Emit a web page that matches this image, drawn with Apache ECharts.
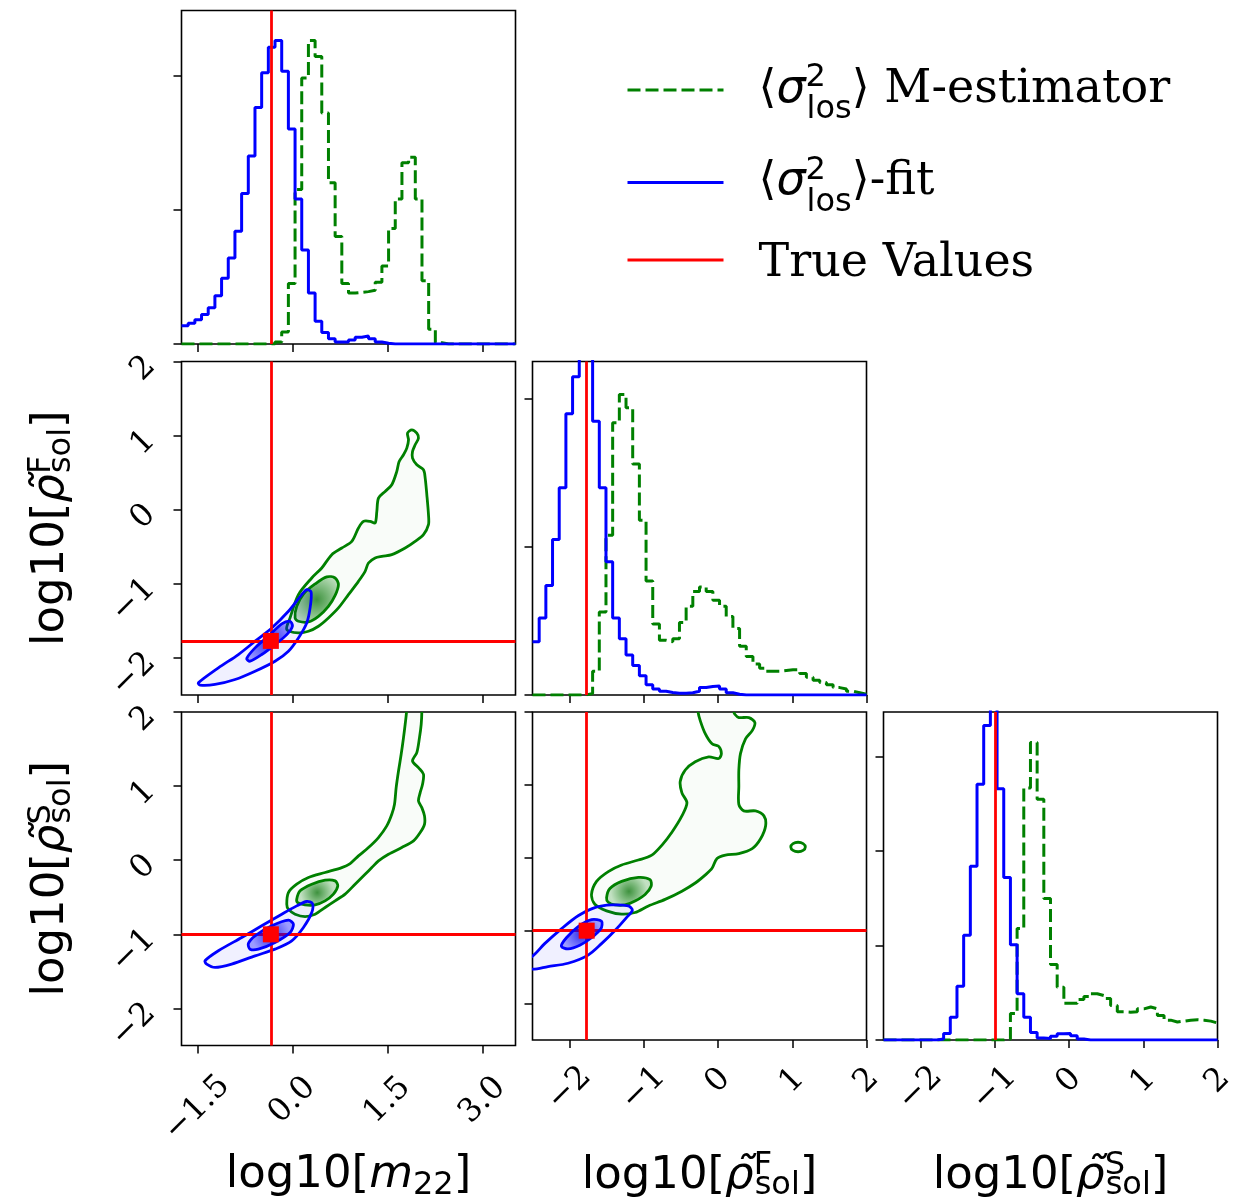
<!DOCTYPE html>
<html><head><meta charset="utf-8">
<script src="https://cdn.jsdelivr.net/npm/echarts@6/dist/echarts.min.js"></script>
<style>html,body{margin:0;padding:0;background:#fff}#c{width:1244px;height:1203px}</style>
</head><body><div id="c"></div>
<script>
// ---------- true values ----------
const trueM22 = -0.34, trueRhoF = -1.77, trueRhoS = -1.0;
// ---------- axis ranges / ticks ----------
const m22Range = [-1.75, 3.52];
const rhoRange = [-2.5, 2];
const m22Ticks = [-1.5, 0, 1.5, 3];
const rhoTicks = [-2, -1, 0, 1, 2];
const histM22Max = 2.483, histRhoFMax = 2.253, histRhoSMax = 3.474;
const histM22Ticks = [0, 1, 2], histRhoFTicks = [0, 1, 2], histRhoSTicks = [0, 1, 2, 3];
// ---------- histogram bins ----------
const m22BinStart = -1.75, m22BinWidth = 0.1054;
const rhoBinStart = -2.5, rhoBinWidth = 0.09;
const m22Blue = [0.135,0.155,0.18,0.22,0.27,0.36,0.49,0.64,0.84,1.12,1.40,1.76,2.02,2.21,2.26,2.03,1.60,1.08,0.70,0.38,0.17,0.085,0.04,0.015,0.015,0.03,0.05,0.06,0.04,0.015,0.005,0,0,0,0,0,0,0,0,0,0,0,0,0,0,0,0,0,0,0];
const m22Green = [0,0,0,0,0,0,0,0,0,0,0,0,0,0,0.015,0.09,0.45,1.15,1.98,2.26,2.14,1.72,1.20,0.80,0.45,0.38,0.385,0.39,0.40,0.46,0.58,0.86,1.08,1.35,1.39,1.08,0.47,0.11,0.01,0,0,0,0,0,0,0,0,0,0,0];
const rhoFBlue = [0.36,0.52,0.74,1.05,1.40,1.90,2.15,2.6,2.6,1.85,1.40,0.90,0.52,0.38,0.27,0.20,0.13,0.07,0.04,0.025,0.017,0.012,0.012,0.015,0.025,0.05,0.058,0.06,0.04,0.015,0.005,0,0,0,0,0,0,0,0,0,0,0,0,0,0,0,0,0,0,0];
const rhoFGreen = [0,0,0,0,0,0,0,0,0.01,0.16,0.56,1.08,1.84,2.03,1.94,1.56,1.18,0.77,0.48,0.37,0.36,0.38,0.49,0.60,0.70,0.73,0.70,0.64,0.60,0.53,0.45,0.33,0.26,0.21,0.18,0.16,0.16,0.165,0.17,0.17,0.145,0.12,0.10,0.085,0.07,0.05,0.04,0.025,0.015,0.005];
const rhoSBlue = [0,0,0,0,0,0,0,0,0.01,0.07,0.24,0.57,1.11,1.84,2.71,3.33,3.6,2.66,1.72,1.01,0.49,0.24,0.08,0.02,0.015,0.04,0.065,0.07,0.045,0.01,0,0,0,0,0,0,0,0,0,0,0,0,0,0,0,0,0,0,0,0];
const rhoSGreen = [0,0,0,0,0,0,0,0,0,0,0,0,0,0,0,0,0,0,0.01,0.28,1.18,2.67,3.15,2.55,1.50,0.80,0.56,0.39,0.39,0.43,0.46,0.49,0.47,0.44,0.365,0.30,0.295,0.30,0.33,0.35,0.33,0.26,0.21,0.19,0.20,0.21,0.215,0.21,0.20,0.18];
// ---------- contours (data space) ----------
const mfGreenOuter = [[-0.089,-1.617],[-0.037,-1.46],[0.095,-1.146],[0.305,-0.921],[0.463,-0.786],[0.621,-0.606],[0.779,-0.517],[0.937,-0.427],[1.042,-0.247],[1.121,-0.157],[1.226,-0.157],[1.305,-0.180],[1.332,-0.022],[1.358,0.157],[1.463,0.247],[1.568,0.337],[1.647,0.517],[1.684,0.651],[1.753,0.741],[1.805,0.831],[1.832,0.943],[1.816,1.033],[1.884,1.078],[1.963,1.033],[1.989,0.966],[1.937,0.876],[1.895,0.786],[1.895,0.696],[1.963,0.606],[2.068,0.539],[2.095,0.427],[2.121,0.202],[2.147,-0.067],[2.147,-0.202],[2.068,-0.337],[1.937,-0.427],[1.779,-0.517],[1.568,-0.606],[1.411,-0.629],[1.305,-0.651],[1.2,-0.719],[1.147,-0.831],[1.042,-0.966],[0.884,-1.146],[0.726,-1.325],[0.568,-1.46],[0.411,-1.572],[0.253,-1.640],[0.095,-1.662]];
const mfGreenInner = [[0.042,-1.46],[0.068,-1.303],[0.174,-1.137],[0.358,-1.002],[0.542,-0.907],[0.674,-0.921],[0.726,-1.011],[0.674,-1.155],[0.568,-1.303],[0.411,-1.438],[0.253,-1.514],[0.095,-1.505]];
const mfBlueOuter = [[-1.484,-2.336],[-1.168,-2.134],[-0.853,-1.954],[-0.589,-1.774],[-0.326,-1.595],[-0.063,-1.370],[0.147,-1.146],[0.226,-1.078],[0.295,-1.11],[0.279,-1.325],[0.226,-1.527],[0.095,-1.730],[-0.063,-1.909],[-0.274,-2.044],[-0.589,-2.179],[-0.905,-2.291],[-1.221,-2.358],[-1.458,-2.367]];
const mfBlueInner = [[-0.721,-2.008],[-0.589,-1.864],[-0.379,-1.707],[-0.168,-1.541],[-0.037,-1.505],[0,-1.572],[-0.089,-1.685],[-0.274,-1.819],[-0.484,-1.954],[-0.668,-2.044]];
const msGreenOuter = [[-0.089,-0.593],[-0.063,-0.436],[0.068,-0.324],[0.253,-0.234],[0.516,-0.166],[0.779,-0.099],[0.911,-0.045],[1.042,0.058],[1.2,0.171],[1.358,0.306],[1.489,0.463],[1.568,0.620],[1.611,0.755],[1.637,0.980],[1.674,1.204],[1.716,1.429],[1.753,1.654],[1.779,1.834],[1.80,2.0],[1.81,2.3],[2.04,2.3],[2.042,2.0],[2.032,1.834],[2.005,1.654],[1.963,1.452],[1.895,1.339],[1.989,1.249],[2.068,1.160],[2.053,1.025],[2.016,0.912],[1.989,0.800],[2.042,0.710],[2.084,0.598],[2.084,0.485],[2.016,0.373],[1.911,0.261],[1.726,0.171],[1.516,0.081],[1.358,-0.009],[1.253,-0.099],[1.147,-0.189],[0.989,-0.324],[0.832,-0.458],[0.674,-0.548],[0.516,-0.638],[0.358,-0.728],[0.2,-0.760],[0.042,-0.728],[-0.063,-0.661]];
const msGreenInner = [[0.068,-0.526],[0.121,-0.413],[0.305,-0.324],[0.516,-0.270],[0.674,-0.279],[0.716,-0.346],[0.647,-0.458],[0.516,-0.548],[0.358,-0.602],[0.2,-0.602],[0.084,-0.571]];
const msBlueOuter = [[-1.379,-1.357],[-1.168,-1.222],[-0.8,-1.043],[-0.484,-0.885],[-0.168,-0.728],[0.068,-0.616],[0.226,-0.557],[0.316,-0.584],[0.305,-0.706],[0.174,-0.908],[-0.011,-1.088],[-0.274,-1.2],[-0.589,-1.290],[-0.958,-1.402],[-1.221,-1.447],[-1.353,-1.402]];
const msBlueInner = [[-0.695,-1.124],[-0.589,-1.020],[-0.326,-0.885],[-0.063,-0.809],[0.016,-0.863],[-0.037,-0.975],[-0.274,-1.110],[-0.537,-1.2],[-0.668,-1.2]];
const fsGreenOuter = [[-0.27,2.3],[-0.271,2.013],[-0.239,1.879],[-0.171,1.7],[-0.081,1.564],[0.009,1.528],[0.045,1.429],[0.009,1.362],[-0.126,1.384],[-0.307,1.317],[-0.442,1.204],[-0.510,1.047],[-0.487,0.890],[-0.419,0.755],[-0.487,0.575],[-0.622,0.351],[-0.758,0.171],[-0.893,0.036],[-1.074,-0.031],[-1.299,-0.099],[-1.479,-0.189],[-1.637,-0.324],[-1.705,-0.503],[-1.660,-0.638],[-1.502,-0.728],[-1.299,-0.773],[-1.119,-0.751],[-0.938,-0.661],[-0.713,-0.571],[-0.487,-0.458],[-0.307,-0.346],[-0.171,-0.234],[-0.081,-0.144],[-0.014,-0.009],[0.099,0.036],[0.280,0.058],[0.460,0.126],[0.573,0.261],[0.641,0.440],[0.618,0.575],[0.505,0.643],[0.347,0.643],[0.280,0.733],[0.280,0.980],[0.280,1.204],[0.302,1.429],[0.370,1.631],[0.460,1.744],[0.496,1.856],[0.415,1.924],[0.280,1.924],[0.226,1.969],[0.212,2.013],[0.21,2.3]];
const fsGreenInner = [[-1.502,-0.548],[-1.457,-0.422],[-1.299,-0.324],[-1.074,-0.270],[-0.916,-0.301],[-0.902,-0.391],[-0.983,-0.503],[-1.119,-0.593],[-1.254,-0.647],[-1.389,-0.647],[-1.479,-0.611]];
const fsGreenIsland = [[0.98,0.148],[1.01,0.195],[1.078,0.213],[1.146,0.195],[1.176,0.148],[1.146,0.101],[1.078,0.083],[1.01,0.101]];
const fsBlueOuter = [[-2.7,-1.45],[-2.508,-1.357],[-2.336,-1.178],[-2.111,-0.975],[-1.885,-0.796],[-1.660,-0.683],[-1.434,-0.647],[-1.209,-0.661],[-1.155,-0.719],[-1.231,-0.818],[-1.389,-0.998],[-1.570,-1.178],[-1.750,-1.335],[-2.021,-1.447],[-2.291,-1.492],[-2.508,-1.528]];
const fsBlueInner = [[-2.111,-1.213],[-2.043,-1.097],[-1.885,-0.944],[-1.705,-0.849],[-1.570,-0.872],[-1.579,-0.975],[-1.705,-1.097],[-1.863,-1.2],[-2.021,-1.249]];

// ---------- styling ----------
const GREEN = '#008000', BLUE = '#0000ff', RED = '#ff0000';
const colLeft = [181.5, 532.5, 883.5], rowTop = [10.5, 361.5, 712];
const W = 334, H = 333.5;

function stepPts(start, width, vals) {
  const pts = vals.map((v, i) => [start + i * width, v]);
  pts.push([start + vals.length * width, vals[vals.length - 1]]);
  return pts;
}
function fmtM22(v) { return (v < 0 ? '\u2212' : '') + Math.abs(v).toFixed(1); }
function fmtInt(v) { return (v < 0 ? '\u2212' : '') + Math.abs(v).toFixed(0); }

const nameRich = {
  t: {fontFamily: 'DejaVu Sans', fontSize: 45, lineHeight: 52, verticalAlign: 'middle', align: 'left', color: '#000'},
  i: {fontFamily: 'DejaVu Sans', fontStyle: 'italic', fontSize: 45, lineHeight: 52, verticalAlign: 'middle', align: 'left', color: '#000'},
  s22: {fontFamily: 'DejaVu Sans', fontSize: 32, lineHeight: 28, verticalAlign: 'bottom', align: 'left', color: '#000'},
  sup: {fontFamily: 'DejaVu Sans', fontSize: 32, lineHeight: 28, verticalAlign: 'top', align: 'left', width: 1, color: '#000'},
  sol: {fontFamily: 'DejaVu Sans', fontSize: 32, lineHeight: 24, verticalAlign: 'bottom', align: 'left', color: '#000'}
};
const nameM22 = '{t|log10[}{i|m}{s22|22}{t|]}';
const nameRhoF = '{t|log10[}{i|\u03C1\u0303}{sup|F}{sol|sol}{t|]}';
const nameRhoS = '{t|log10[}{i|\u03C1\u0303}{sup|S}{sol|sol}{t|]}';

const tickRich = {
  n: {fontFamily: 'DejaVu Serif', fontSize: 32, color: '#000', padding: [11, 11, 0, 0]},
  p: {fontFamily: 'DejaVu Serif', fontSize: 32, color: '#000'}
};

function baseAxis(g, range, ticks) {
  return {
    gridIndex: g, type: 'value', min: range[0], max: range[1],
    axisLine: {show: false, onZero: false}, splitLine: {show: false},
    axisTick: {show: true, length: 8, customValues: ticks, lineStyle: {color: '#000', width: 1.5}},
    axisLabel: {show: false, customValues: ticks}
  };
}
function xAxis(g, range, ticks, labels, fmt, margin, name, nameGap) {
  const ax = baseAxis(g, range, ticks);
  ax.position = 'bottom';
  if (labels) {
    ax.axisLabel = {
      show: true, customValues: ticks, rotate: 45, align: 'center', verticalAlign: 'middle', margin: margin,
      formatter: v => (v < 0 ? '{n|' : '{p|') + fmt(v) + '}', rich: tickRich
    };
    ax.name = name; ax.nameLocation = 'middle'; ax.nameGap = nameGap;
    ax.nameTextStyle = {rich: nameRich};
  }
  return ax;
}
function yAxis(g, range, ticks, labels, fmt, name) {
  const ax = baseAxis(g, range, ticks);
  ax.position = 'left';
  if (labels) {
    ax.axisLabel = {
      show: true, customValues: ticks, rotate: 45, margin: 31,
      fontFamily: 'DejaVu Serif', fontSize: 32, color: '#000', formatter: v => fmt(v)
    };
    ax.name = name; ax.nameLocation = 'middle'; ax.nameGap = 104;
    ax.nameTextStyle = {rich: nameRich};
  }
  return ax;
}

const grids = [];
[[0,0],[1,0],[1,1],[2,0],[2,1],[2,2]].forEach(([r, c]) => grids.push({
  left: colLeft[c], top: rowTop[r], width: W, height: H, containLabel: false,
  show: true, borderColor: '#000', borderWidth: 1.6, backgroundColor: 'transparent'
}));

const xAxes = [
  xAxis(0, m22Range, m22Ticks, false),
  xAxis(1, m22Range, m22Ticks, false),
  xAxis(2, rhoRange, rhoTicks, false),
  xAxis(3, m22Range, m22Ticks, true, fmtM22, 55, nameM22, 104),
  xAxis(4, rhoRange, rhoTicks, true, fmtInt, 41, nameRhoF, 110),
  xAxis(5, rhoRange, rhoTicks, true, fmtInt, 41, nameRhoS, 110)
];
const yAxes = [
  yAxis(0, [0, histM22Max], histM22Ticks, false),
  yAxis(1, rhoRange, rhoTicks, true, fmtInt, nameRhoF),
  yAxis(2, [0, histRhoFMax], histRhoFTicks, false),
  yAxis(3, rhoRange, rhoTicks, true, fmtInt, nameRhoS),
  yAxis(4, rhoRange, rhoTicks, false),
  yAxis(5, [0, histRhoSMax], histRhoSTicks, false)
];

const series = [];
function hist(g, name, pts, color, dashed, z) {
  series.push({
    type: 'line', name: name, xAxisIndex: g, yAxisIndex: g, data: pts, step: 'end',
    symbol: 'none', showSymbol: false, clip: true, silent: true, z: z,
    lineStyle: {color: color, width: 3, type: dashed ? [13, 5] : 'solid'},
    itemStyle: {color: color}
  });
}
hist(0, 'est', stepPts(m22BinStart, m22BinWidth, m22Green), GREEN, true, 3);
hist(0, 'fit', stepPts(m22BinStart, m22BinWidth, m22Blue), BLUE, false, 4);
hist(2, 'est', stepPts(rhoBinStart, rhoBinWidth, rhoFGreen), GREEN, true, 3);
hist(2, 'fit', stepPts(rhoBinStart, rhoBinWidth, rhoFBlue), BLUE, false, 4);
hist(5, 'est', stepPts(rhoBinStart, rhoBinWidth, rhoSGreen), GREEN, true, 3);
hist(5, 'fit', stepPts(rhoBinStart, rhoBinWidth, rhoSBlue), BLUE, false, 4);

function radial(c0, c1) {
  return {type: 'radial', x: 0.5, y: 0.5, r: 0.6, colorStops: [{offset: 0, color: c0}, {offset: 1, color: c1}]};
}
function contour(g, pts, stroke, fill, z) {
  series.push({
    type: 'custom', name: 'contour', xAxisIndex: g, yAxisIndex: g, clip: true, silent: true, z: z,
    data: [[0, 0]],
    renderItem: function (params, api) {
      return {
        type: 'polygon',
        shape: {points: pts.map(p => api.coord(p)), smooth: 0.3},
        style: {fill: fill || 'none', stroke: stroke, lineWidth: 2.8}
      };
    }
  });
}
const gOutFill = 'rgba(0,128,0,0.025)';
const gInFill = radial('rgba(0,110,0,0.75)', 'rgba(0,128,0,0.22)');
const bOutFill = 'rgba(0,0,255,0.06)';
const bInFill = radial('rgba(0,0,230,0.8)', 'rgba(0,0,255,0.35)');
// m22 vs rhoF
contour(1, mfGreenOuter, GREEN, gOutFill, 2);
contour(1, mfGreenInner, GREEN, gInFill, 3);
contour(1, mfBlueOuter, BLUE, bOutFill, 4);
contour(1, mfBlueInner, BLUE, bInFill, 5);
// m22 vs rhoS
contour(3, msGreenOuter, GREEN, gOutFill, 2);
contour(3, msGreenInner, GREEN, gInFill, 3);
contour(3, msBlueOuter, BLUE, bOutFill, 4);
contour(3, msBlueInner, BLUE, bInFill, 5);
// rhoF vs rhoS
contour(4, fsGreenOuter, GREEN, gOutFill, 2);
contour(4, fsGreenIsland, GREEN, null, 2);
contour(4, fsGreenInner, GREEN, gInFill, 3);
contour(4, fsBlueOuter, BLUE, bOutFill, 4);
contour(4, fsBlueInner, BLUE, bInFill, 5);

function truth(g, ml) {
  series.push({
    type: 'line', name: 'true', xAxisIndex: g, yAxisIndex: g, data: [], symbol: 'none', z: 10, silent: true,
    lineStyle: {color: RED, width: 3}, itemStyle: {color: RED},
    markLine: {silent: true, symbol: ['none', 'none'], label: {show: false}, animation: false,
      lineStyle: {color: RED, width: 2.8, type: 'solid', opacity: 1}, data: ml}
  });
}
truth(0, [{xAxis: trueM22}]);
truth(1, [{xAxis: trueM22}, {yAxis: trueRhoF}]);
truth(2, [{xAxis: trueRhoF}]);
truth(3, [{xAxis: trueM22}, {yAxis: trueRhoS}]);
truth(4, [{xAxis: trueRhoF}, {yAxis: trueRhoS}]);
truth(5, [{xAxis: trueRhoS}]);
function marker(g, x, y) {
  series.push({type: 'scatter', name: 'truept', xAxisIndex: g, yAxisIndex: g, data: [[x, y]],
    symbol: 'rect', symbolSize: 16, itemStyle: {color: RED, opacity: 1}, z: 11, silent: true});
}
marker(1, trueM22, trueRhoF);
marker(3, trueM22, trueRhoS);
marker(4, trueRhoF, trueRhoS);

const legRich = {
  lead: {fontFamily: 'DejaVu Sans', fontSize: 46, lineHeight: 72, padding: [0, 0, 0, 30], color: '#000'},
  br: {fontFamily: 'DejaVu Sans', fontSize: 46, lineHeight: 72, color: '#000'},
  sig: {fontFamily: 'DejaVu Sans', fontStyle: 'italic', fontSize: 46, lineHeight: 72, color: '#000'},
  sup: {fontFamily: 'DejaVu Sans', fontSize: 32, lineHeight: 32, verticalAlign: 'top', align: 'left', padding: [8, 0, 0, 0], width: 1, color: '#000'},
  sub: {fontFamily: 'DejaVu Sans', fontSize: 32, lineHeight: 32, verticalAlign: 'bottom', color: '#000'},
  ser: {fontFamily: 'DejaVu Serif', fontSize: 46, lineHeight: 72, color: '#000'},
  ser3: {fontFamily: 'DejaVu Serif', fontSize: 46, lineHeight: 52, padding: [8, 0, 0, 30], color: '#000'}
};
const legendText = {
  est: '{lead|\u27E8}{sig|\u03C3}{sup|2}{sub|los}{br|\u27E9}{ser| M-estimator}',
  fit: '{lead|\u27E8}{sig|\u03C3}{sup|2}{sub|los}{br|\u27E9}{ser|-fit}',
  true: '{ser3|True Values}'
};
function legend(name, top) {
  return {left: 626, top: top, orient: 'vertical', padding: 0, itemWidth: 96, itemHeight: 14,
    selectedMode: false, data: [name], formatter: n => legendText[n], textStyle: {rich: legRich},
    itemStyle: {opacity: 0}, lineStyle: {width: 3}};
}

const chart = echarts.init(document.getElementById('c'), null, {renderer: 'canvas'});
chart.setOption({
  animation: false,
  backgroundColor: '#fff',
  grid: grids, xAxis: xAxes, yAxis: yAxes, series: series,
  legend: [legend('est', 54), legend('fit', 146.5), legend('true', 233)]
});
</script></body></html>
